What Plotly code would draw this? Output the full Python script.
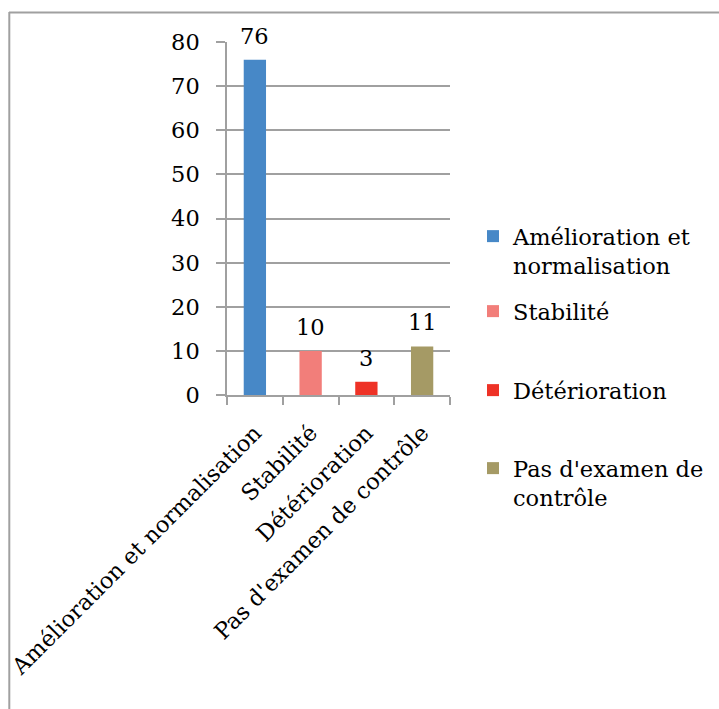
import plotly.graph_objects as go

# Chart data
categories = ["Amélioration et normalisation", "Stabilité", "Détérioration",
              "Pas d'examen de contrôle"]
values = [76, 10, 3, 11]
legend_names = ["Amélioration et<br>normalisation", "Stabilité", "Détérioration",
                "Pas d'examen de<br>contrôle"]
colors = ["#4788C7", "#F27E7A", "#EE3226", "#A59A65"]
y_ticks = [0, 10, 20, 30, 40, 50, 60, 70, 80]

FONT = "DejaVu Serif"
FS = 22.5
W, H = 719, 709
L, R, T, B = 227, 269, 42, 314

# legend block tops (pixels from the top of the page)
legend_tops = [215, 290, 369, 447]
legend_ids = ["legend", "legend2", "legend3", "legend4"]

fig = go.Figure()
for i, cat in enumerate(categories):
    fig.add_trace(go.Bar(
        x=[cat], y=[values[i]], name=legend_names[i],
        marker=dict(color=colors[i], line=dict(width=0)),
        legend=legend_ids[i],
    ))
    # value label above each bar
    fig.add_annotation(
        x=cat, y=values[i], text=str(values[i]),
        xref="x", yref="y", showarrow=False,
        yanchor="bottom", yshift=9,
        font=dict(family=FONT, size=FS, color="#000000"),
    )

legend_style = dict(
    font=dict(family=FONT, size=FS, color="#000000"),
    xref="container", yref="container",
    xanchor="left", yanchor="top",
    bgcolor="rgba(0,0,0,0)", valign="top",
    itemclick=False, itemdoubleclick=False,
)
layout_legends = {}
for lid, top in zip(legend_ids, legend_tops):
    layout_legends[lid] = dict(legend_style, x=473 / W, y=1 - top / H)

fig.update_layout(
    width=W, height=H,
    margin=dict(l=L, r=R, t=T, b=B, autoexpand=False),
    paper_bgcolor="white", plot_bgcolor="white",
    barmode="overlay", bargap=0.6,
    showlegend=True,
    font=dict(family=FONT, size=FS, color="#000000"),
    xaxis=dict(
        type="category", categoryorder="array", categoryarray=categories,
        tickangle=-45, ticks="outside", tickson="boundaries",
        ticklen=8, tickcolor="#A0A0A0", tickwidth=1.5,
        showline=True, linecolor="#A0A0A0", linewidth=1.5,
        showgrid=False, ticklabelstandoff=14, automargin=False,
        tickfont=dict(family=FONT, size=FS),
    ),
    yaxis=dict(
        range=[0, 80], tickvals=y_ticks, ticks="outside", ticklen=9,
        tickcolor="#A0A0A0", tickwidth=1.5,
        showline=True, linecolor="#A0A0A0", linewidth=1.5,
        showgrid=True, gridcolor="#A0A0A0", gridwidth=1.5,
        zeroline=False, ticklabelstandoff=12, automargin=False,
        tickfont=dict(family=FONT, size=FS),
    ),
    **layout_legends,
)

# frame lines along the top and left edges of the page
pw = W - L - R
ph = H - T - B
def px_to_paper_x(px):
    return (px - L) / pw
def py_to_paper_y(py):
    return (H - B - py) / ph

fig.add_shape(type="line", xref="paper", yref="paper",
              x0=px_to_paper_x(9), x1=px_to_paper_x(W + 5),
              y0=py_to_paper_y(12.5), y1=py_to_paper_y(12.5),
              line=dict(color="#A0A0A0", width=2))
fig.add_shape(type="line", xref="paper", yref="paper",
              x0=px_to_paper_x(9.3), x1=px_to_paper_x(9.3),
              y0=py_to_paper_y(12), y1=py_to_paper_y(H + 5),
              line=dict(color="#A0A0A0", width=2))

fig.write_html("out.html")
